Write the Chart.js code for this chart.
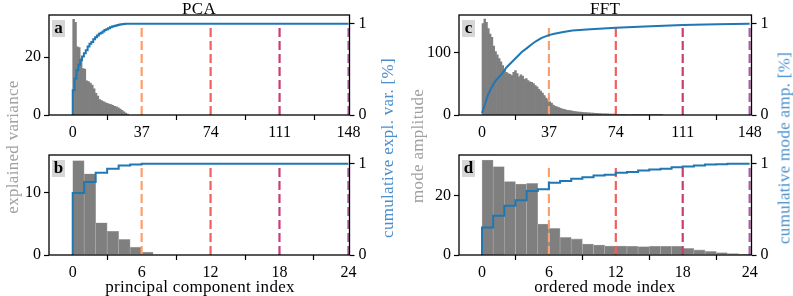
<!DOCTYPE html>
<html>
<head>
<meta charset="utf-8">
<script src="https://cdn.jsdelivr.net/npm/chart.js@4.4.1/dist/chart.umd.min.js"></script>
<style>
body { margin: 0; background: #fff; width: 793px; height: 296px; position: relative; overflow: hidden; font-family: 'Liberation Serif', serif; }
canvas { position: absolute; }
.txt { position: absolute; white-space: nowrap; font-size: 17px; letter-spacing: 0.3px; transform: translate(-50%, -50%); line-height: 1; }
.rot { transform: translate(-50%, -50%) rotate(-90deg); }
.gray { color: #a0a0a0; }
.blue { color: #4a8fcc; }
.tag { position: absolute; width: 13px; height: 17px; background: #d6d6d6; font-weight: bold; font-size: 17px; line-height: 16px; text-align: center; }
</style>
</head>
<body>
<canvas id="pa" width="400" height="140" style="left:0;top:0"></canvas>
<canvas id="pb" width="400" height="156" style="left:0;top:140px"></canvas>
<canvas id="pc" width="393" height="140" style="left:400px;top:0"></canvas>
<canvas id="pd" width="393" height="156" style="left:400px;top:140px"></canvas>

<div class="txt" style="left:199px;top:8px">PCA</div>
<div class="txt" style="left:605px;top:8px">FFT</div>
<div class="txt" style="left:200px;top:286px">principal component index</div>
<div class="txt" style="left:605px;top:286px">ordered mode index</div>
<div class="txt rot gray" style="left:12px;top:147px">explained variance</div>
<div class="txt rot blue" style="left:387px;top:148px">cumulative expl. var. [%]</div>
<div class="txt rot gray" style="left:417px;top:146px">mode amplitude</div>
<div class="txt rot blue" style="left:784px;top:148px">cumulative mode amp. [%]</div>
<div class="tag" style="left:52px;top:20px">a</div>
<div class="tag" style="left:52px;top:160px">b</div>
<div class="tag" style="left:462px;top:20px">c</div>
<div class="tag" style="left:462px;top:160px">d</div>

<script>
// PCA, all 148 components
var pcaTicks = [0, 37, 74, 111, 148];
var pcaVar = [33.0, 32.0, 23.5, 23.3, 19.5, 16.0, 15.8, 11.8, 11.5, 11.0, 10.3, 9.0, 7.5, 6.5, 5.3, 5.0,
              4.6, 4.3, 4.0, 3.8, 3.6, 3.3, 3.0, 2.8, 2.5, 2.0, 1.6, 1.1, 0.7, 0.3];
var pcaCumK = [0, 1, 2, 3, 4, 5, 6, 7, 8, 9, 10, 11, 12, 13, 14, 15, 16, 17, 18, 19, 20,
               21, 22, 23, 24, 25, 26, 27, 28, 29, 30, 31, 148];
var pcaCum = [0, 0.27, 0.40, 0.49, 0.55, 0.60, 0.64, 0.675, 0.71, 0.75, 0.78, 0.80, 0.83, 0.85, 0.87, 0.89, 0.90,
              0.915, 0.93, 0.94, 0.95, 0.96, 0.97, 0.975, 0.98, 0.985, 0.99, 0.993, 0.996, 1.0, 1.0, 1.0, 1.0];
var pcaCuts = [37, 74, 111, 148];

// PCA, first 24 components
var pcaZoomTicks = [0, 6, 12, 18, 24];
var pcaZoomVar = [15.1, 13.0, 5.15, 3.8, 2.5, 1.25, 0.45];
var pcaZoomCum = [0, 0.68, 0.80, 0.90, 0.945, 0.98, 0.99, 1.0, 1.0, 1.0, 1.0, 1.0, 1.0,
                  1.0, 1.0, 1.0, 1.0, 1.0, 1.0, 1.0, 1.0, 1.0, 1.0, 1.0, 1.0];
var pcaZoomCuts = [6, 12, 18, 24];

// FFT, all 148 modes
var fftTicks = [0, 37, 74, 111, 148];
var fftAmp = [146, 153, 148, 138, 129, 124, 110, 101, 96, 90, 85, 79, 73, 68, 66, 65, 63, 68, 71, 66,
              61, 64, 62, 57, 58, 55, 53, 52, 50, 47, 45, 41, 38, 35, 31, 27, 24, 21, 19, 16,
              14, 13, 12, 10.5, 9.5, 9, 8, 7.5, 7, 6.5, 6, 5.5, 5, 4.8, 4.5, 4.2, 4, 3.8, 3.6, 3.4,
              3.2, 3, 2.8, 2.6, 2.4, 2.2, 2, 1.9, 1.8, 1.7, 1.6, 1.5, 1.4, 1.3, 1.2, 1.1, 1.0, 1.0, 0.9, 0.9,
              0.8, 0.8, 0.8, 0.7, 0.7, 0.7, 0.6, 0.6, 0.6, 0.5, 0.5, 0.5, 0.5, 0.4, 0.4, 0.4, 0.4, 0.3, 0.3, 0.3];
var fftCumX = [0, 1, 2, 3.5, 5, 7, 9, 11, 13.5, 16.5, 19, 22, 25, 27.5, 30, 33, 37, 40, 45, 50, 60, 74, 90, 111, 130, 148];
var fftCum = [0.02, 0.08, 0.14, 0.23, 0.29, 0.36, 0.41, 0.45, 0.52, 0.58, 0.63, 0.69, 0.735, 0.775, 0.81, 0.845,
              0.875, 0.89, 0.91, 0.925, 0.94, 0.956, 0.97, 0.985, 0.995, 1.0];
var fftCuts = [37, 74, 111, 148];

// FFT, first 24 modes
var fftZoomTicks = [0, 6, 12, 18, 24];
var fftZoomAmp = [31.8, 29.6, 24.6, 23.8, 24.0, 10.4, 8.9, 5.9, 5.4, 3.7, 3.35, 3.0, 3.0, 2.9, 2.8, 2.9,
                  2.9, 2.9, 2.2, 1.7, 1.2, 0.8, 0.5, 0.3];
var fftZoomCum = [0, 0.30, 0.43, 0.54, 0.60, 0.70, 0.72, 0.79, 0.81, 0.835, 0.85, 0.87, 0.88, 0.90,
                  0.91, 0.925, 0.935, 0.945, 0.96, 0.97, 0.98, 0.99, 0.995, 1.0, 1.0];
var fftZoomCuts = [6, 12, 18, 24];

var cutColors = ['#fd9f6c', '#f1605d', '#c93d75', 'rgba(140,41,129,0.75)'];
var CUT_TOP = 0.97;

Chart.defaults.font.family = "'Liberation Serif', serif";
Chart.defaults.font.size = 16;
Chart.defaults.color = '#000';

var frame = {
    id: 'frame',
    afterDatasetsDraw: function (chart) {
        var a = chart.chartArea, ctx = chart.ctx;
        ctx.save();
        ctx.strokeStyle = '#000';
        ctx.lineWidth = 1.3;
        ctx.strokeRect(a.left, a.top, a.right - a.left, a.bottom - a.top);
        ctx.restore();
    }
};

function fixedTicks(list) {
    return function (s) { s.ticks = list.map(function (v) { return {value: v}; }); };
}

function tickGrid() {
    return {drawOnChartArea: false, drawTicks: true, tickLength: 5, tickWidth: 1.2, tickColor: '#000'};
}

function panel(id, p) {
    var n = p.xTicks[p.xTicks.length - 1];
    var sets = [];
    sets.push({
        type: 'line', data: p.cumX.map(function (x, i) { return {x: x, y: p.cum[i]}; }),
        yAxisID: 'y2', borderColor: '#1f77b4', borderWidth: 2, pointRadius: 0,
        stepped: p.stepped ? 'after' : false, fill: false, order: 0
    });
    p.cuts.forEach(function (c, i) {
        sets.push({
            type: 'line', data: [{x: c, y: 0}, {x: c, y: CUT_TOP}], yAxisID: 'y2',
            borderColor: cutColors[i], borderWidth: 2.2, borderDash: [9, 4], pointRadius: 0, order: 1
        });
    });
    sets.push({
        type: 'bar', data: p.bars.map(function (v, i) { return {x: i + 0.5, y: v}; }),
        yAxisID: 'y', backgroundColor: '#7f7f7f', borderColor: '#b3b3b3',
        borderWidth: p.edge, barPercentage: 1, categoryPercentage: 1, order: 2
    });
    return new Chart(document.getElementById(id), {
        type: 'bar',
        data: {datasets: sets},
        plugins: [frame],
        options: {
            responsive: false, animation: false, devicePixelRatio: 1,
            layout: {padding: {top: 15, left: 0, right: 0, bottom: 0}},
            plugins: {legend: {display: false}, tooltip: {enabled: false}},
            scales: {
                x: {
                    type: 'linear', offset: false, min: -0.086 * n, max: n * p.xPad,
                    afterBuildTicks: fixedTicks(p.xTicks),
                    afterFit: function (s) { s.height = p.xh; },
                    ticks: {padding: 3, maxRotation: 0, autoSkip: false},
                    grid: tickGrid(), border: {display: false}
                },
                y: {
                    position: 'left', min: 0, max: p.yMax,
                    afterBuildTicks: fixedTicks(p.yTicks),
                    afterFit: function (s) { s.width = p.lw; },
                    ticks: {padding: 3}, grid: tickGrid(), border: {display: false}
                },
                y2: {
                    position: 'right', min: 0, max: 1.095,
                    afterBuildTicks: fixedTicks([0, 1]),
                    afterFit: function (s) { s.width = p.rw; },
                    ticks: {padding: 4}, grid: tickGrid(), border: {display: false}
                }
            }
        }
    });
}

panel('pa', {xTicks: pcaTicks, xPad: 1.0035, bars: pcaVar, cumX: pcaCumK, cum: pcaCum, stepped: true,
    cuts: pcaCuts, yMax: 34.5, yTicks: [0, 20], edge: 0, xh: 25, lw: 49, rw: 50.5});
panel('pb', {xTicks: pcaZoomTicks, xPad: 1.004, bars: pcaZoomVar,
    cumX: pcaZoomCum.map(function (v, k) { return k; }), cum: pcaZoomCum, stepped: true,
    cuts: pcaZoomCuts, yMax: 16.0, yTicks: [0, 10], edge: 0.6, xh: 41, lw: 49, rw: 50.5});
panel('pc', {xTicks: fftTicks, xPad: 1.007, bars: fftAmp, cumX: fftCumX, cum: fftCum, stepped: false,
    cuts: fftCuts, yMax: 159.5, yTicks: [0, 100], edge: 0, xh: 25, lw: 59, rw: 41.5});
panel('pd', {xTicks: fftZoomTicks, xPad: 1.007, bars: fftZoomAmp,
    cumX: fftZoomCum.map(function (v, k) { return k; }), cum: fftZoomCum, stepped: true,
    cuts: fftZoomCuts, yMax: 33.5, yTicks: [0, 20], edge: 0.6, xh: 41, lw: 59, rw: 41.5});
</script>
</body>
</html>
